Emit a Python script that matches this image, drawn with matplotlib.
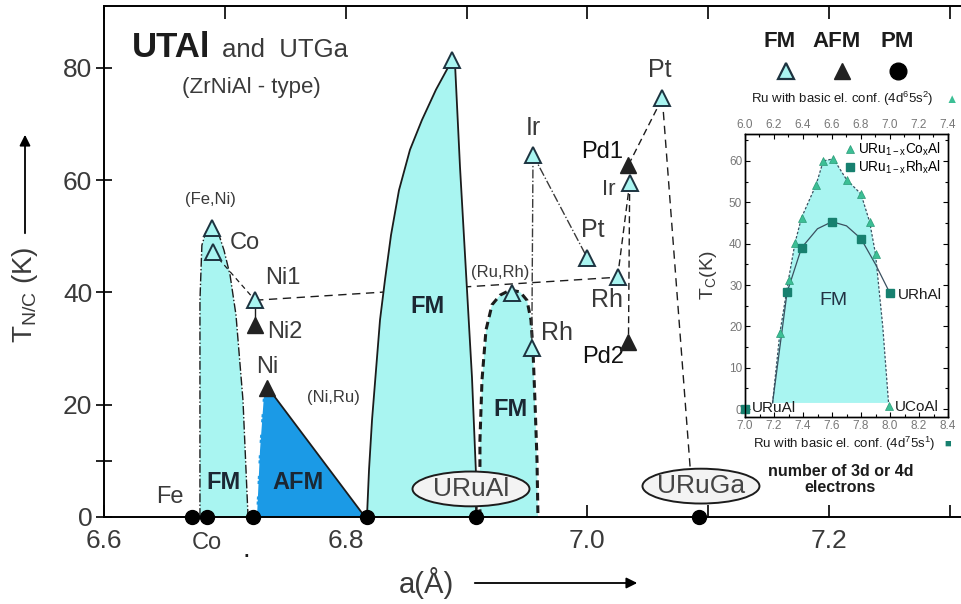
import matplotlib
matplotlib.use('Agg')
import numpy as np
import matplotlib.pyplot as plt
from matplotlib.patches import Ellipse
from matplotlib.lines import Line2D
from matplotlib.ticker import MultipleLocator, FixedLocator

plt.rcParams['font.family'] = ['Liberation Sans', 'DejaVu Sans']
plt.rcParams['mathtext.fontset'] = 'custom'
plt.rcParams['mathtext.rm'] = 'Liberation Sans'
plt.rcParams['mathtext.bf'] = 'Liberation Sans:bold'

CYAN = '#a9f5f1'
BLUE = '#1b9ae6'
INK = '#1c1c1c'
GREY = '#3a3a3a'

# --- main panel: lattice parameter a (A) vs ordering temperature (K) ---
# ferromagnets (open triangles)
fm_a = [6.689, 6.690, 6.725, 6.888, 6.938, 6.954, 6.955, 7.000, 7.025, 7.035, 7.062]
fm_t = [51.5, 47.2, 38.6, 81.4, 39.9, 30.1, 64.5, 46.1, 42.7, 59.5, 74.6]
# antiferromagnets (filled triangles): Ni2, Ni, Pd1, Pd2
afm_a = [6.725, 6.735, 7.034, 7.034]
afm_t = [34.2, 23.0, 62.7, 31.2]
# paramagnets (circles at T = 0)
pm_a = [6.673, 6.685, 6.723, 6.818, 6.908, 7.092]
pm_t = [0, 0, 0, 0, 0, 0]

# phase regions (boundaries)
co_fm_a = [6.6794, 6.6794, 6.6810, 6.6844, 6.6894, 6.6943, 6.6993, 6.7043, 6.7092, 6.7150, 6.7192]
co_fm_t = [0, 38.6, 48.4, 50.8, 51.8, 50.8, 47.5, 43.1, 36.0, 20.8, 0]

big_fm_a = [6.8176, 6.8193, 6.8218, 6.8251, 6.8284, 6.8325, 6.8375, 6.8441, 6.8532, 6.8631,
            6.8747, 6.8838, 6.8880, 6.8904, 6.8946, 6.9004, 6.9045, 6.9078, 6.9086]
big_fm_t = [0, 8.4, 17.3, 26.2, 35.1, 42.2, 50.2, 58.2, 65.4, 70.7,
            76.1, 79.7, 81.4, 81.0, 62.3, 40.4, 24.9, 7.8, 0]

rurh_fm_a = [6.9111, 6.9111, 6.9128, 6.9161, 6.9211, 6.9277, 6.9360, 6.9442, 6.9500,
             6.9533, 6.9550, 6.9566, 6.9583, 6.9591]
rurh_fm_t = [0, 13.7, 24.4, 33.3, 37.8, 39.5, 40.4, 40.1, 38.6, 35.1, 29.7, 20.8, 10.2, 0]

afm_reg_a = [6.7258, 6.7283, 6.7316, 6.7357, 6.8160]
afm_reg_t = [0, 11.9, 21.7, 23.0, 0]

# --- inset: Tc vs number of d electrons ---
co_n = [7.24, 7.30, 7.345, 7.39, 7.49, 7.54, 7.61, 7.70, 7.80, 7.86, 7.90, 7.99]
co_tc = [18.3, 31.3, 40.2, 46.3, 54.2, 60.0, 60.5, 55.5, 52.0, 45.2, 37.5, 0.7]
rh_n = [7.0, 7.29, 7.39, 7.60, 7.80, 8.0]
rh_tc = [0, 28.2, 39.0, 45.3, 41.2, 28.0]
rh_curve_n = [7.19, 7.29, 7.39, 7.50, 7.60, 7.70, 7.80, 7.90, 8.0]
rh_curve_tc = [1.5, 28.2, 39.0, 43.6, 45.3, 44.3, 41.2, 35.0, 28.0]
co_curve_n = [7.19, 7.24, 7.30, 7.345, 7.39, 7.49, 7.54, 7.61, 7.70, 7.80, 7.86, 7.90, 7.95, 7.99]
co_curve_tc = [1.5, 18.3, 31.3, 40.2, 46.3, 54.2, 60.0, 60.5, 55.5, 52.0, 45.2, 37.5, 20.0, 1.5]

fig = plt.figure(figsize=(9.62, 6.04), dpi=100)
ax = fig.add_axes([104 / 962, 87 / 604, 858 / 962, 511 / 604])
ax.set_xlim(6.6, 7.31)
ax.set_ylim(0, 91)

# regions
ax.fill(co_fm_a, co_fm_t, color=CYAN, lw=0, zorder=2)
ax.fill(big_fm_a, big_fm_t, color=CYAN, lw=0, zorder=2)
ax.fill(rurh_fm_a, rurh_fm_t, color=CYAN, lw=0, zorder=2)
ax.fill(afm_reg_a, afm_reg_t, color=BLUE, lw=0, zorder=2)

ax.plot(big_fm_a, big_fm_t, color=INK, lw=1.3, zorder=3)
ax.plot(rurh_fm_a, rurh_fm_t, color=INK, lw=2.2, dashes=(2.5, 1.6), zorder=3)
ax.plot(afm_reg_a[3:], afm_reg_t[3:], color=INK, lw=1.3, zorder=3)
ax.plot(afm_reg_a[:3], afm_reg_t[:3], color='white', lw=1.4, ls='-.', zorder=3)
ax.plot(co_fm_a[:4], co_fm_t[:4], color=INK, lw=1.0, ls='-.', zorder=3)
ax.plot(co_fm_a[5:], co_fm_t[5:], color=INK, lw=1.0, ls='-.', zorder=3)

# connecting lines between compounds
ax.plot([fm_a[1], fm_a[2]], [fm_t[1], fm_t[2]], color=INK, lw=0.9, dashes=(4, 3), zorder=3)
ax.plot([fm_a[2], fm_a[8]], [fm_t[2], fm_t[8]], color=INK, lw=1.0, dashes=(6, 4), zorder=1)
ax.plot([fm_a[2], afm_a[0]], [fm_t[2], afm_t[0]], color=INK, lw=1.0, zorder=3)
ax.plot([fm_a[6], fm_a[5]], [fm_t[6], fm_t[5]], color=GREY, lw=1.0, ls='-.', zorder=3)
ax.plot([fm_a[6], fm_a[7]], [fm_t[6], fm_t[7]], color=GREY, lw=1.0, ls='-.', zorder=3)
ax.plot([fm_a[8], fm_a[9]], [fm_t[8], fm_t[9]], color=INK, lw=1.0, dashes=(5, 3), zorder=3)
ax.plot([fm_a[9], afm_a[3]], [fm_t[9], afm_t[3]], color=INK, lw=1.0, dashes=(5, 3), zorder=3)
ax.plot([afm_a[2], fm_a[10]], [afm_t[2], fm_t[10]], color=INK, lw=1.0, dashes=(5, 3), zorder=3)
ax.plot([fm_a[10], 7.085], [fm_t[10], 8.9], color=INK, lw=1.0, dashes=(6, 4), zorder=3)
ax.plot([pm_a[4], pm_a[4]], [pm_t[4], 2.3], color=INK, lw=1.3, zorder=3)

# markers
ax.plot(fm_a, fm_t, ls='none', marker='^', ms=11, mfc=CYAN, mec='#1d3340', mew=1.4, zorder=5)
ax.plot(afm_a, afm_t, ls='none', marker='^', ms=11, color='#222222', zorder=5)
ax.plot(pm_a, pm_t, ls='none', marker='o', ms=10, color='black', zorder=6, clip_on=False)

# compound ellipses
for cx, cy, name in [(6.9037, 5.0, 'URuAl'), (7.094, 5.5, 'URuGa')]:
    ax.add_patch(Ellipse((cx, cy), 0.0968, 6.2, fc='#f3f3f3', ec=INK, lw=1.4, zorder=5))
    ax.text(cx, cy, name, ha='center', va='center', fontsize=19, color='#444444', zorder=6)

# text annotations
ax.text(6.6232, 81.9, 'UTAl', fontsize=25, fontweight='bold', va='baseline', color=INK)
ax.text(6.6976, 81.9, 'and  UTGa', fontsize=18.5, va='baseline', color=GREY)
ax.text(6.7216, 76.4, '(ZrNiAl - type)', fontsize=16, ha='center', va='center', color=GREY)
lab = dict(ha='center', va='center', color=GREY)
ax.text(6.6877, 56.5, '(Fe,Ni)', fontsize=12, **lab)
ax.text(6.7167, 48.8, 'Co', fontsize=17, **lab)
ax.text(6.7481, 42.6, 'Ni1', fontsize=17, **lab)
ax.text(6.7498, 32.9, 'Ni2', fontsize=17, **lab)
ax.text(6.7349, 26.7, 'Ni', fontsize=17, **lab)
ax.text(6.7895, 21.2, '(Ni,Ru)', fontsize=12, **lab)
ax.text(6.6546, 3.6, 'Fe', fontsize=17, **lab)
ax.text(6.6852, -4.6, 'Co', fontsize=17, clip_on=False, **lab)
ax.text(6.7175, -7.2, '.', fontsize=20, ha='center', va='baseline', color=INK, clip_on=False)
ax.text(6.9277, 43.6, '(Ru,Rh)', fontsize=12, **lab)
ax.text(6.955, 69.3, 'Ir', fontsize=18, **lab)
ax.text(7.0046, 51.1, 'Pt', fontsize=18, **lab)
ax.text(7.0162, 38.6, 'Rh', fontsize=18, **lab)
ax.text(6.9748, 32.8, 'Rh', fontsize=18, **lab)
ax.text(7.0121, 65.0, 'Pd1', fontsize=17, ha='center', va='center', color='#111111')
ax.text(7.0179, 58.4, 'Ir', fontsize=16, **lab)
ax.text(7.0129, 28.5, 'Pd2', fontsize=17, ha='center', va='center', color='#111111')
ax.text(7.0601, 79.6, 'Pt', fontsize=18, **lab)
bold = dict(ha='center', va='center', fontsize=17, fontweight='bold', color='#1b2733', zorder=6)
ax.text(6.6985, 6.2, 'FM', **bold)
ax.text(6.7605, 6.2, 'AFM', **bold)
ax.text(6.8673, 37.4, 'FM', **bold)
ax.text(6.9360, 19.1, 'FM', **bold)

# key
for xk, s in [(7.1594, 'FM'), (7.2065, 'AFM'), (7.2562, 'PM')]:
    ax.text(xk, 84.6, s, ha='center', va='center', fontsize=16, fontweight='bold', color=INK)
key = [Line2D([], [], ls='none', marker='^', ms=12, mfc=CYAN, mec='#1d3340', mew=1.6),
       Line2D([], [], ls='none', marker='^', ms=12, color='#222222'),
       Line2D([], [], ls='none', marker='o', ms=12, color='black')]
ax.legend(key, ['', '', ''], ncol=3, frameon=False, loc='center',
          bbox_to_anchor=((842 - 104) / 858, (604 - 73 - 87) / 511),
          handlelength=1.0, handletextpad=0.0, columnspacing=1.5, fontsize=16)

# axes styling
ax.spines['right'].set_visible(False)
for s in ['left', 'top', 'bottom']:
    ax.spines[s].set_linewidth(1.4)
ax.xaxis.set_major_locator(FixedLocator([6.6, 6.8, 7.0, 7.2]))
ax.xaxis.set_minor_locator(FixedLocator([6.7, 6.9, 7.1, 7.3]))
ax.yaxis.set_major_locator(FixedLocator([0, 20, 40, 60, 80]))
ax.yaxis.set_minor_locator(FixedLocator([10]))
ax.tick_params(axis='x', which='both', direction='in', top=True, length=9, width=1.2,
               labelsize=19, pad=9, labelcolor=GREY)
ax.tick_params(axis='y', which='both', direction='inout', length=11, width=1.2,
               labelsize=19, pad=3, labelcolor=GREY)

fig.text(25 / 962, 1 - 295 / 604, 'T$_\\mathregular{N/C}$ (K)', rotation=90, fontsize=20,
         ha='center', va='center', color=GREY)
ax.annotate('', xy=(25 / 962, 1 - 132 / 604), xytext=(25 / 962, 1 - 236 / 604),
            xycoords='figure fraction', textcoords='figure fraction',
            arrowprops=dict(arrowstyle='-|>', lw=1.3, color='black', mutation_scale=16))
fig.text(426 / 962, 1 - 583 / 604, 'a(Å)', fontsize=21, ha='center', va='center', color=GREY)
ax.annotate('', xy=(640 / 962, 1 - 583 / 604), xytext=(472 / 962, 1 - 583 / 604),
            xycoords='figure fraction', textcoords='figure fraction',
            arrowprops=dict(arrowstyle='-|>', lw=1.3, color='black', mutation_scale=16))

# --- inset ---
TRI = '#3cbf95'
SQ = '#17806f'
ins = fig.add_axes([745 / 962, 187 / 604, 203 / 962, 283 / 604])
ins.set_xlim(7.0, 8.4)
ins.set_ylim(-1.9, 66.5)
ins.fill(co_curve_n, co_curve_tc, color=CYAN, lw=0, zorder=1)
ins.plot(co_curve_n, co_curve_tc, color='#3a5060', lw=0.9, dashes=(2, 1.5), zorder=2)
ins.plot(rh_curve_n, rh_curve_tc, color='#3a5060', lw=0.9, zorder=2)
ins.plot(co_n, co_tc, ls='none', marker='^', ms=6, color=TRI, mec='#2a9b78', mew=0.5, zorder=3,
         label='URu$_\\mathregular{1-x}$Co$_\\mathregular{x}$Al')
ins.plot(rh_n, rh_tc, ls='none', marker='s', ms=5.5, color=SQ, zorder=3, clip_on=False,
         label='URu$_\\mathregular{1-x}$Rh$_\\mathregular{x}$Al')
ins.legend(loc='upper right', frameon=False, fontsize=9.8, handlelength=0.6, handletextpad=0.3,
           labelspacing=0.05, borderaxespad=0.3, borderpad=0.2)
ins.text(7.607, 26.3, 'FM', fontsize=14, ha='center', va='center', color='#223344')
ins.text(8.055, 27.5, 'URhAl', fontsize=11, ha='left', va='center', color=INK)
ins.text(7.048, 0.3, 'URuAl', fontsize=11, ha='left', va='center', color=INK)
ins.text(8.034, 0.6, 'UCoAl', fontsize=11, ha='left', va='center', color=INK)
ins.xaxis.set_major_locator(MultipleLocator(0.2))
ins.xaxis.set_minor_locator(MultipleLocator(0.1))
ins.yaxis.set_major_locator(MultipleLocator(10))
ins.yaxis.set_minor_locator(MultipleLocator(5))
ins.tick_params(which='both', direction='in', labelsize=8.5, labelcolor='#777777', pad=2,
                right=True, width=0.8)
ins.tick_params(which='major', length=3.5)
ins.tick_params(which='minor', length=2)
ins.set_ylabel('T$_\\mathregular{C}$(K)', fontsize=14, color=GREY)
ins.yaxis.set_label_coords(-0.13, 0.5)
top = ins.twiny()
top.set_xlim(6.0, 7.4)
top.xaxis.set_major_locator(MultipleLocator(0.2))
top.xaxis.set_minor_locator(MultipleLocator(0.1))
top.tick_params(which='both', direction='in', labelsize=8.5, labelcolor='#777777', pad=2, width=0.8)
top.tick_params(which='major', length=3.5)
top.tick_params(which='minor', length=2)
for a_ in (ins, top):
    for s in a_.spines.values():
        s.set_linewidth(1.0)

ins.text(0.48, 1.125, 'Ru with basic el. conf. (4d$^6$5s$^2$)', transform=ins.transAxes,
         fontsize=9.5, ha='center', va='center', color=INK)
ins.text(1.02, 1.12, '▲', transform=ins.transAxes, fontsize=9, ha='center', va='center',
         color=TRI, clip_on=False)
ins.text(0.49, -0.095, 'Ru with basic el. conf. (4d$^7$5s$^1$)', transform=ins.transAxes,
         fontsize=9.5, ha='center', va='center', color=INK)
ins.text(1.0, -0.095, '■', transform=ins.transAxes, fontsize=8, ha='center', va='center',
         color=SQ, clip_on=False)
ins.text(0.47, -0.22, 'number of 3d or 4d\nelectrons', transform=ins.transAxes,
         fontsize=11.5, fontweight='bold', ha='center', va='center', color=INK, linespacing=1.05)

fig.savefig('out.png', dpi=100)
